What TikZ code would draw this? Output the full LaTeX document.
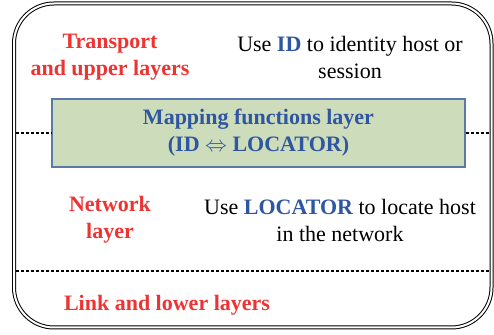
\documentclass[tikz,border=0pt]{standalone}
\usepackage{fontspec}
\setmainfont{Liberation Serif}
\usetikzlibrary{positioning, calc}
\definecolor{lyRed}{HTML}{EE3333}
\definecolor{lyBlue}{HTML}{2F56A0}
\definecolor{lyFill}{HTML}{CDDCBA}
\definecolor{lyEdge}{HTML}{5A78A8}
\tikzset{
  lytext/.style={font=\fontsize{11}{13.5}\selectfont, align=center, inner sep=0pt},
  lyname/.style={lytext, text=lyRed, font=\fontsize{11}{13.5}\selectfont\bfseries},
  maplayer/.style={draw=lyEdge, line width=0.7pt, fill=lyFill, minimum width=206.5pt,
    minimum height=34pt, text=lyBlue, align=center,
    font=\fontsize{11}{13.5}\selectfont\bfseries},
  outer/.style={draw, double, line width=0.5pt, double distance=1pt, rounded corners=20pt},
  sepline/.style={dash pattern=on 1.5pt off 1pt, line width=0.6pt},
  key/.style={text=lyBlue, font=\bfseries}
}
\begin{document}
\begin{tikzpicture}[x=0.5pt, y=-0.5pt]
  \useasboundingbox (0,0) rectangle (494,335);
  % frame
  \draw[outer] (14,3.5) rectangle (491.5,327.5);
  % upper layers
  \node[lyname] (tp) at (110,57) {Transport\\and upper layers};
  \node[lytext] (tpuse) at (350,57) {Use {\color{lyBlue}\bfseries ID} to identity host or\\session};
  % mapping layer
  \node[maplayer] (map) at (258.5,133) {Mapping functions layer\\(ID $\Leftrightarrow$ LOCATOR)};
  \coordinate (ml) at (16,133);
  \coordinate (mr) at (490,133);
  \draw[sepline] (ml) -- (map.west);
  \draw[sepline] (map.east) -- (mr);
  % network layer
  \node[lyname] (net) at (110,220) {Network\\layer};
  \node[lytext] (netuse) at (340,220) {Use {\color{lyBlue}\bfseries LOCATOR} to locate host\\in the network};
  \coordinate (sl) at (16,271);
  \coordinate (sr) at (490,271);
  \draw[sepline] (sl) -- (sr);
  % link layer
  \node[lyname] (link) at (167,305) {Link and lower layers};
\end{tikzpicture}
\end{document}
